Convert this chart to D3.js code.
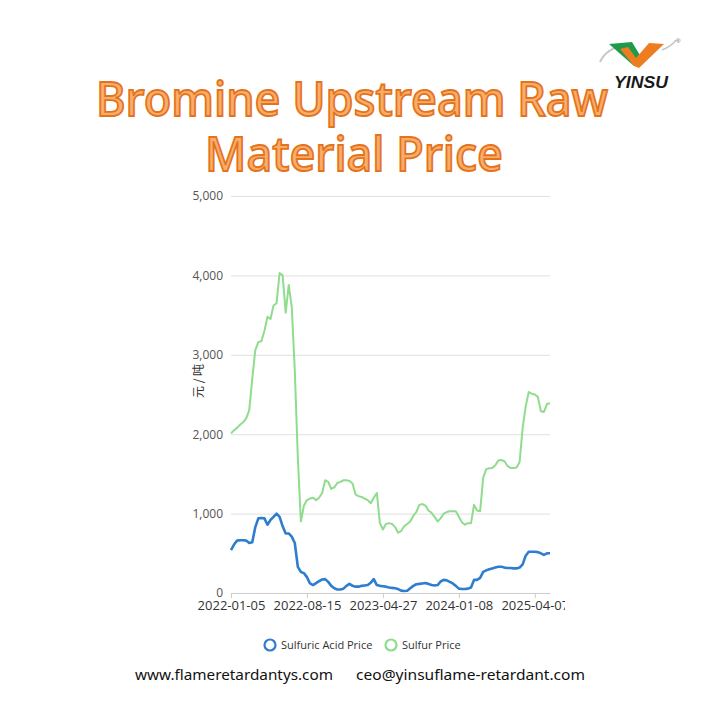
<!DOCTYPE html>
<html><head><meta charset="utf-8">
<script src="https://cdn.jsdelivr.net/npm/d3@7/dist/d3.min.js"></script>
<style>body{margin:0;background:#fff}svg{display:block}</style>
</head><body>
<script>
const xTickLabels = ["2022-01-05","2022-08-15","2023-04-27","2024-01-08","2025-04-07"];
const xTickStep = 25;
const yTicks = [0,1000,2000,3000,4000,5000];
const seriesNames = ["Sulfuric Acid Price","Sulfur Price"];
const sulfuricAcid = [540,610,660,665,665,660,630,640,830,940,945,940,860,920,960,1000,960,840,750,750,
 710,630,330,265,250,200,120,100,125,150,170,175,140,90,60,45,45,55,90,115,
 90,80,80,90,95,100,130,175,100,90,85,80,70,65,60,50,30,25,28,60,
 90,110,115,120,125,115,100,95,100,145,165,160,140,120,90,55,50,50,55,70,
 165,165,190,265,285,300,310,320,330,330,320,315,315,310,310,320,360,470,520,520,
 520,515,500,480,500,500];
const sulfur = [2010,2050,2080,2120,2150,2200,2300,2700,3060,3160,3170,3300,3480,3450,3620,3650,4030,4000,3530,3880,
 3600,2800,1700,900,1100,1170,1190,1200,1170,1200,1260,1420,1400,1310,1330,1385,1400,1420,1420,1410,
 1380,1240,1220,1210,1190,1170,1130,1200,1260,880,800,870,880,870,830,760,780,840,870,900,
 970,1020,1110,1120,1100,1040,1010,960,900,940,1000,1020,1030,1030,1030,960,890,860,880,880,
 1110,1040,1030,1450,1560,1570,1575,1610,1670,1675,1660,1600,1575,1575,1580,1650,2080,2350,2530,2510,
 2500,2470,2290,2280,2380,2390];
const colors = ["#2f7dcf","#90dc8e"];

const W = 720, H = 720;
const svg = d3.select("body").append("svg").attr("width",W).attr("height",H);
svg.append("rect").attr("width",W).attr("height",H).attr("fill","#fff");

// Title
const title = svg.append("g").attr("font-family","'Noto Sans', 'Open Sans', sans-serif")
  .attr("font-weight",500).attr("fill","#f8ad6a").attr("stroke","#e5731c").attr("stroke-width",1.8)
  .attr("text-anchor","middle");
title.append("text").attr("x",352).attr("y",116).attr("font-size",47)
  .attr("textLength",512).attr("lengthAdjust","spacingAndGlyphs").text("Bromine Upstream Raw");
title.append("text").attr("x",354).attr("y",171).attr("font-size",47)
  .attr("textLength",298).attr("lengthAdjust","spacingAndGlyphs").text("Material Price");

// Logo
const logo = svg.append("g");
logo.append("path").attr("d","M600,62 Q606,48 628,44").attr("fill","none").attr("stroke","#c8c8c8").attr("stroke-width",2);
logo.append("path").attr("d","M662,50 Q672,46 676,40").attr("fill","none").attr("stroke","#c8c8c8").attr("stroke-width",1.5);
logo.append("path").attr("d","M609,44 L632,42 L641,57 L634,66 Z").attr("fill","#1e9a4a");
logo.append("path").attr("d","M620,49 L634,66 L639,68 L664,44 L649,43 L636,58 L628,47 Z").attr("fill","#ee7d22");
logo.append("text").attr("x",676).attr("y",43).attr("font-size",6).attr("fill","#666").attr("font-family","sans-serif").text("®");
logo.append("text").attr("x",641).attr("y",88).attr("text-anchor","middle").attr("font-family","'Liberation Sans', Arial, sans-serif")
  .attr("font-weight","bold").attr("font-style","italic").attr("font-size",17).attr("fill","#1a1a1a")
  .attr("textLength",54).attr("lengthAdjust","spacingAndGlyphs").text("YINSU");

// Chart
const x = d3.scaleLinear().domain([0, sulfur.length-1]).range([231,550]);
const y = d3.scaleLinear().domain([0,5000]).range([593,196]);

svg.append("defs").append("clipPath").attr("id","cl").append("rect")
  .attr("x",0).attr("y",180).attr("width",565).attr("height",440);
const chart = svg.append("g").attr("clip-path","url(#cl)");

const ya = chart.append("g").attr("transform","translate(231,0)")
  .call(d3.axisLeft(y).tickValues(yTicks).tickFormat(d3.format(",")).tickSize(-(550-231)).tickPadding(8));
ya.select(".domain").remove();
ya.selectAll(".tick line").attr("stroke","#e0e0e0");
ya.selectAll(".tick text").attr("font-family","'Open Sans', 'Noto Sans', sans-serif").attr("font-size",12).attr("fill","#555");
ya.selectAll(".tick").filter(d=>d===0).select("line").attr("stroke","#ccc");

const xa = chart.append("g").attr("transform","translate(0,593)")
  .call(d3.axisBottom(x).tickValues(xTickLabels.map((d,i)=>i*xTickStep)).tickFormat((d,i)=>xTickLabels[i]).tickSize(5).tickSizeOuter(0).tickPadding(3));
xa.select(".domain").attr("stroke","#ccc");
xa.selectAll(".tick line").attr("stroke","#ccc");
xa.selectAll(".tick text").attr("font-family","'Open Sans', 'Noto Sans', sans-serif").attr("font-size",13).attr("fill","#333");

chart.append("text").attr("transform","translate(203,381) rotate(-90)").attr("text-anchor","middle")
  .attr("font-family","'Noto Sans CJK SC', sans-serif").attr("font-size",12).attr("fill","#333").text("元 / 吨");

const line = d3.line().x((d,i)=>x(i)).y(d=>y(d));
chart.append("path").datum(sulfur).attr("d",line).attr("fill","none").attr("stroke",colors[1]).attr("stroke-width",2).attr("stroke-linejoin","round");
chart.append("path").datum(sulfuricAcid).attr("d",line).attr("fill","none").attr("stroke",colors[0]).attr("stroke-width",2.6).attr("stroke-linejoin","round");

// Legend
const leg = svg.append("g").attr("font-family","'Open Sans', 'Noto Sans', sans-serif").attr("font-size",11).attr("fill","#333");
const legX = [270, 391];
seriesNames.forEach((n,i)=>{
  leg.append("circle").attr("cx",legX[i]).attr("cy",645).attr("r",5.5).attr("fill","none").attr("stroke",colors[i]).attr("stroke-width",2.2);
  leg.append("text").attr("x",legX[i]+11).attr("y",649).text(n);
});

// Footer
const ft = svg.append("g").attr("font-family","'Noto Sans', 'Open Sans', sans-serif").attr("font-size",15).attr("fill","#111");
ft.append("text").attr("x",135).attr("y",680).attr("textLength",198).attr("lengthAdjust","spacingAndGlyphs").text("www.flameretardantys.com");
ft.append("text").attr("x",356).attr("y",680).attr("textLength",229).attr("lengthAdjust","spacingAndGlyphs").text("ceo@yinsuflame-retardant.com");
</script>
</body></html>
